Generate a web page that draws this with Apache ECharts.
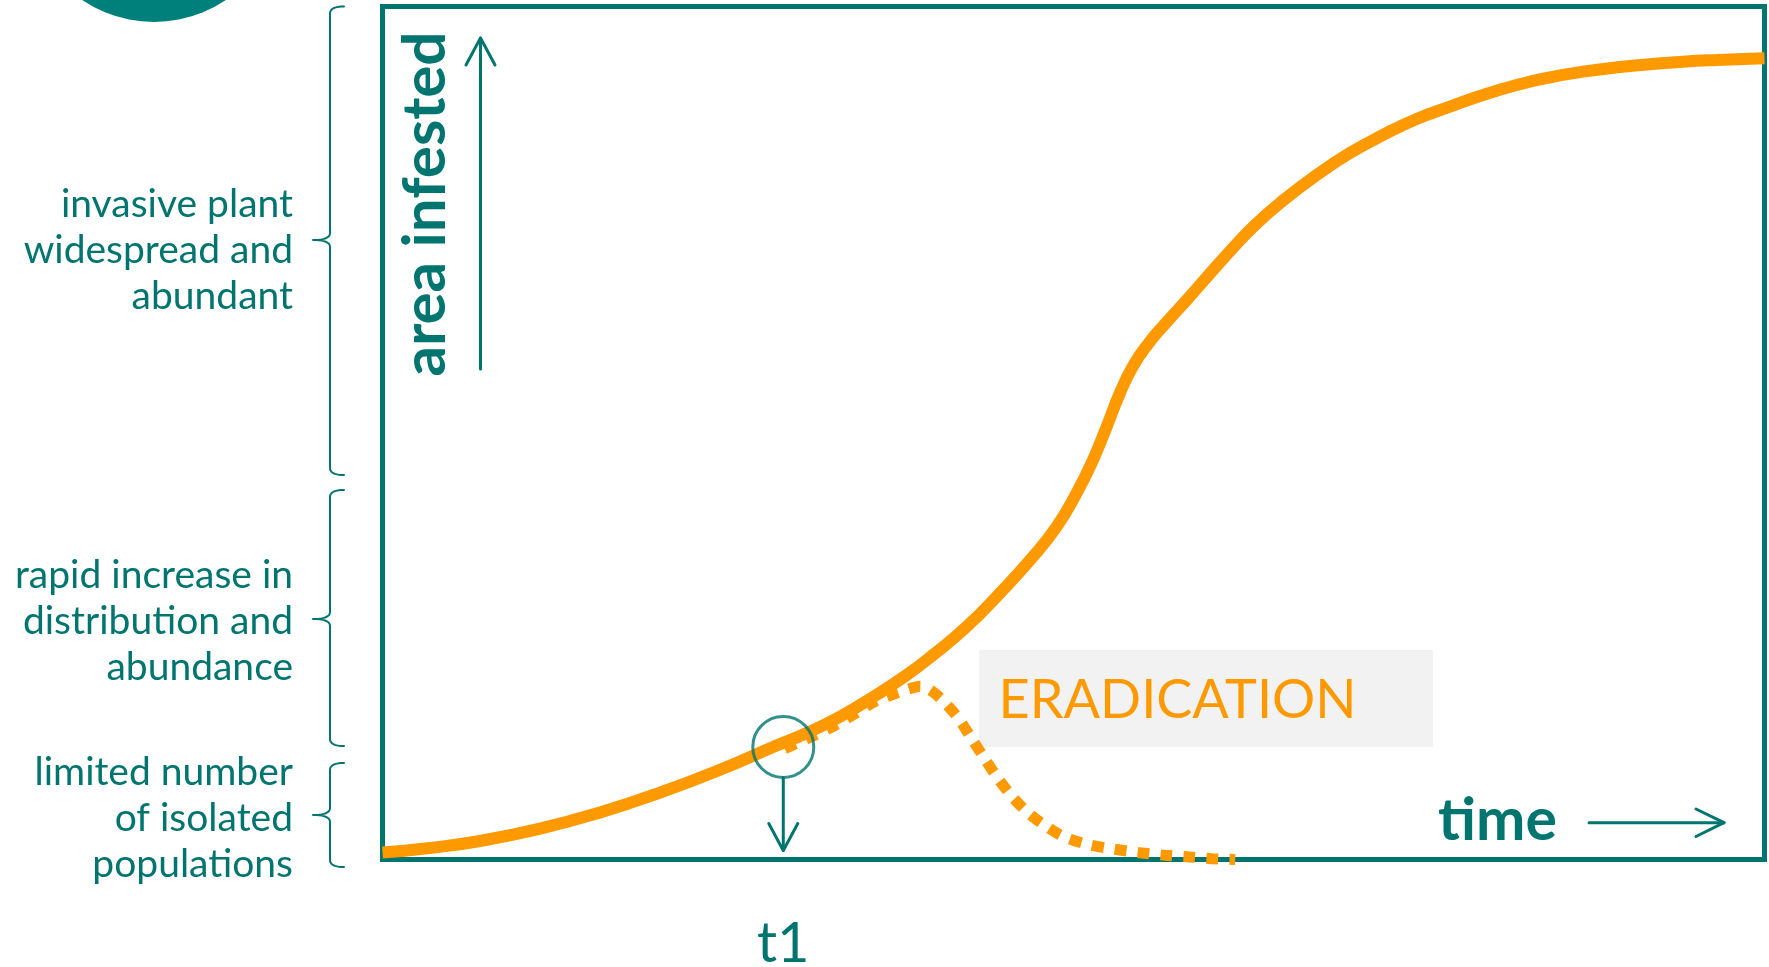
<!DOCTYPE html>
<html>
<head>
<meta charset="utf-8">
<title>Invasion curve</title>
<script src="https://cdn.jsdelivr.net/npm/echarts@6/dist/echarts.min.js"></script>
<style>
  html, body { margin: 0; padding: 0; background: #ffffff; }
  #chart { width: 1769px; height: 967px; }
</style>
</head>
<body>
<div id="chart"></div>
<script>
// Area infested over time for an unmanaged invasion (solid),
// and the course after eradication starts at t1 (dotted).
const timeMain = [0, 3.44, 7.05, 11.4, 15.74, 20.08, 24.42, 28.26, 30.7, 33.1, 35.49, 37.93, 39.83, 42.27, 44.68, 47.07, 48.78, 50.23, 51.41, 52.4, 53.36, 54.31, 55.39, 56.62, 58.19, 59.88, 61.47, 63.13, 65.16, 67.6, 70.01, 72.4, 74.83, 77.24, 79.63, 82.07, 84.48, 86.87, 89.31, 91.72, 94.1, 96.54, 100];
const areaMain = [0.82, 1.35, 2.17, 3.62, 5.52, 7.84, 10.52, 13.19, 14.83, 16.74, 19.05, 21.63, 23.97, 27.29, 31.24, 35.5, 39.02, 42.97, 46.84, 50.74, 54.69, 57.85, 60.43, 62.78, 65.59, 68.7, 71.57, 74.38, 77.26, 80.25, 82.83, 84.94, 86.81, 88.25, 89.63, 90.8, 91.7, 92.36, 92.87, 93.22, 93.53, 93.73, 93.93];

const timeEradication = [29.1, 30.9, 32.6, 34.2, 35.6, 37.2, 38.2, 38.9, 39.6, 40.5, 41.6, 42.7, 43.5, 44.5, 45.6, 46.7, 48.1, 49.4, 51.2, 53.0, 54.8, 56.6, 58.4, 60.0, 61.7];
const areaEradication = [13.0, 14.3, 15.6, 17.1, 18.5, 19.5, 20.05, 20.3, 19.9, 18.7, 16.7, 14.0, 12.0, 9.6, 7.3, 5.5, 3.8, 2.6, 1.7, 1.2, 0.8, 0.5, 0.3, 0.1, 0];

// Moment eradication begins
const t1Time = 29.0;
const t1Area = 13.2;

// Text
const stageLabels = [
  ['invasive plant', 'widespread and', 'abundant'],
  ['rapid increase in', 'distribution and', 'abundance'],
  ['limited number', 'of isolated', 'populations']
];
const yTitle = 'area infested';
const xTitle = 'time';
const eventLabel = 't1';
const actionLabel = 'ERADICATION';

const TEAL = '#00756F';
const TEAL_LIGHT = '#00807A';
const ORANGE = '#FF9900';
const FONT = 'Lato, "Open Sans", sans-serif';

const pairs = (xs, ys) => xs.map((x, i) => [x, ys[i]]);

const chart = echarts.init(document.getElementById('chart'), null, { renderer: 'canvas', width: 1769, height: 967 });

chart.setOption({
  animation: false,
  backgroundColor: '#ffffff',
  grid: {
    left: 382.5, top: 6.5, right: 4.5, bottom: 107.5,
    show: true, borderColor: TEAL, borderWidth: 5, backgroundColor: 'transparent'
  },
  xAxis: { type: 'value', min: 0, max: 100, show: false },
  yAxis: { type: 'value', min: 0, max: 100, show: false },
  series: [
    {
      type: 'line', name: 'eradication',
      data: pairs(timeEradication, areaEradication),
      symbol: 'none', smooth: 0.3, clip: false, silent: true,
      lineStyle: { color: ORANGE, width: 11, type: [12, 11], cap: 'butt' },
      z: 2
    },
    {
      type: 'line', name: 'no action',
      data: pairs(timeMain, areaMain),
      symbol: 'none', smooth: 0.5, silent: true,
      lineStyle: { color: ORANGE, width: 12, cap: 'butt' },
      z: 3
    },
    {
      type: 'scatter', name: 't1',
      data: [[t1Time, t1Area]],
      symbol: 'circle', symbolSize: 61, silent: true,
      itemStyle: { color: 'rgba(0,0,0,0)', borderColor: TEAL, borderWidth: 3 },
      z: 4
    }
  ]
});

// Curly brace as a polyline built from quadratic segments
function bracePoints(x, top, mid, bottom) {
  const hook = 14, notch = 17, r = 7;
  const pts = [];
  const quad = (p0, p1, p2) => {
    for (let i = 0; i <= 10; i++) {
      const t = i / 10, a = (1 - t) * (1 - t), b = 2 * (1 - t) * t, c = t * t;
      pts.push([a * p0[0] + b * p1[0] + c * p2[0], a * p0[1] + b * p1[1] + c * p2[1]]);
    }
  };
  quad([x + hook, top], [x, top], [x, top + r]);
  quad([x, mid - r], [x, mid], [x - notch, mid]);
  quad([x - notch, mid], [x, mid], [x, mid + r]);
  quad([x, bottom - r], [x, bottom], [x + hook, bottom]);
  return pts;
}

const lineStyle = (w) => ({ stroke: TEAL, lineWidth: w, fill: null, lineCap: 'round', lineJoin: 'round' });

const braces = [
  { top: 6.5, mid: 240, bottom: 475 },
  { top: 490, mid: 619, bottom: 746 },
  { top: 763, mid: 815, bottom: 867 }
];
const labelCenters = [250.5, 621.5, 818];

const [t1x, t1y] = chart.convertToPixel({ gridIndex: 0 }, [t1Time, t1Area]);
const [, axisY] = chart.convertToPixel({ gridIndex: 0 }, [t1Time, 0]);
const circleR = 30.5;
const tipY = axisY - 9;

const elements = [
  // emblem at the top-left corner
  { type: 'circle', shape: { cx: 154, cy: -106, r: 128 }, style: { fill: TEAL_LIGHT }, z: 1 },
  // eradication panel
  { type: 'rect', shape: { x: 979, y: 650, width: 454, height: 97 }, style: { fill: '#F2F2F2' }, z: 1 },
  { type: 'text', x: 998.5, y: 701, z: 5,
    style: { text: actionLabel, font: '54px ' + FONT, fill: ORANGE, align: 'left', verticalAlign: 'middle' } },
  // y title with arrow
  { type: 'text', x: 425.5, y: 204, rotation: Math.PI / 2, z: 5,
    style: { text: yTitle, font: 'bold 60px ' + FONT, fill: TEAL, align: 'center', verticalAlign: 'middle' } },
  { type: 'polyline', shape: { points: [[480.5, 369], [480.5, 38]] }, style: lineStyle(3), z: 5 },
  { type: 'polyline', shape: { points: [[466, 65], [480.5, 38], [495, 65]] }, style: lineStyle(3), z: 5 },
  // x title with arrow
  { type: 'text', x: 1497.5, y: 820.5, z: 5,
    style: { text: xTitle, font: 'bold 59px ' + FONT, fill: TEAL, align: 'center', verticalAlign: 'middle' } },
  { type: 'polyline', shape: { points: [[1589, 822.7], [1724, 822.7]] }, style: lineStyle(3), z: 5 },
  { type: 'polyline', shape: { points: [[1696, 809], [1724, 822.7], [1696, 836.5]] }, style: lineStyle(3), z: 5 },
  // t1 marker arrow and label
  { type: 'polyline', shape: { points: [[t1x, t1y + circleR], [t1x, tipY]] }, style: lineStyle(3), z: 5 },
  { type: 'polyline', shape: { points: [[t1x - 14.5, tipY - 27], [t1x, tipY], [t1x + 14.5, tipY - 27]] }, style: lineStyle(3), z: 5 },
  { type: 'text', x: t1x, y: 944, z: 5,
    style: { text: eventLabel, font: '56px ' + FONT, fill: TEAL, align: 'center', verticalAlign: 'middle' } }
];

braces.forEach((b, i) => {
  elements.push({ type: 'polyline', shape: { points: bracePoints(330, b.top, b.mid, b.bottom) }, style: lineStyle(2), z: 5 });
  elements.push({ type: 'text', x: 293, y: labelCenters[i], z: 5,
    style: { text: stageLabels[i].join('\n'), font: '39px ' + FONT, fill: TEAL, align: 'right', verticalAlign: 'middle', lineHeight: 46 } });
});

chart.setOption({ graphic: { elements: elements } });
</script>
</body>
</html>
